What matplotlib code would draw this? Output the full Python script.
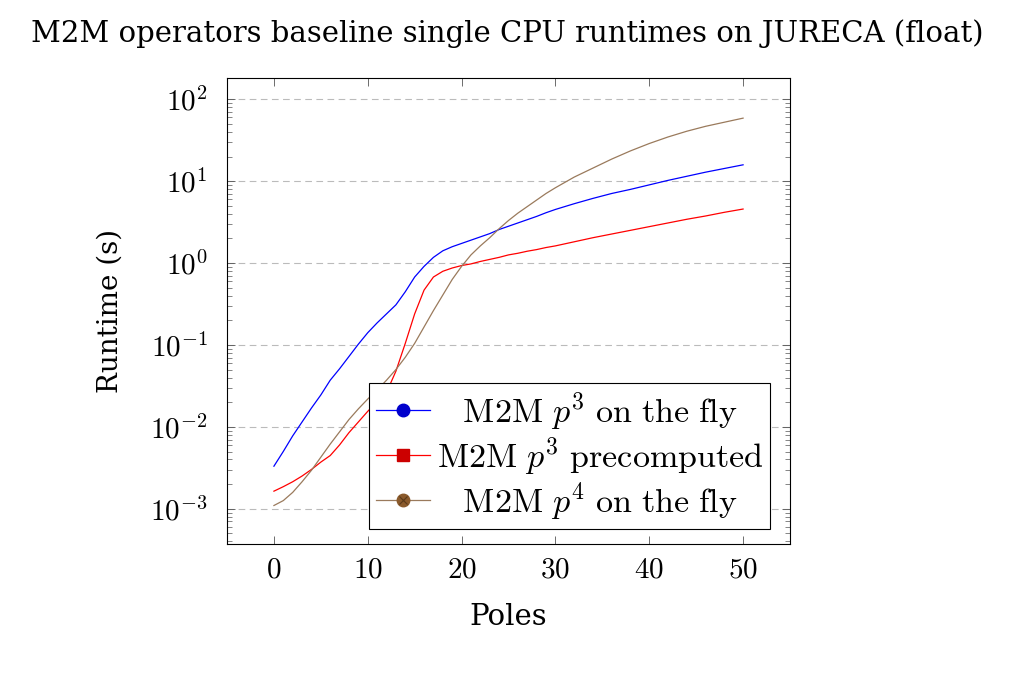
import matplotlib
matplotlib.use('Agg')
import matplotlib.pyplot as plt
from matplotlib.lines import Line2D
from matplotlib.legend_handler import HandlerTuple
from matplotlib.ticker import FixedLocator, LogLocator, NullFormatter, FuncFormatter
import numpy as np

plt.rcParams['mathtext.fontset'] = 'cm'
plt.rcParams['font.family'] = ['DejaVu Serif']

poles = [0, 1, 2, 3, 4, 5, 6, 7, 8, 9, 10, 11, 12, 13, 14, 15, 16, 17, 18, 19, 20,
         21, 22, 23, 24, 25, 26, 27, 28, 29, 30, 32, 34, 36, 38, 40, 42, 44, 46, 48, 50]

# log10 of runtime in seconds
log_p3_fly = [-2.48, -2.30, -2.11, -1.94, -1.77, -1.61, -1.43, -1.29, -1.14, -0.99, -0.85,
              -0.73, -0.62, -0.51, -0.35, -0.17, -0.04, 0.07, 0.15, 0.20, 0.24,
              0.28, 0.32, 0.36, 0.41, 0.45, 0.49, 0.53, 0.57, 0.615, 0.655,
              0.725, 0.79, 0.85, 0.90, 0.955, 1.01, 1.06, 1.11, 1.155, 1.20]
log_p3_pre = [-2.785, -2.73, -2.67, -2.60, -2.52, -2.43, -2.35, -2.22, -2.07, -1.94, -1.81,
              -1.69, -1.58, -1.32, -0.98, -0.62, -0.33, -0.17, -0.10, -0.06, -0.03,
              -0.01, 0.02, 0.045, 0.07, 0.10, 0.12, 0.145, 0.165, 0.19, 0.21,
              0.26, 0.31, 0.355, 0.40, 0.445, 0.49, 0.535, 0.575, 0.62, 0.66]
log_p4_fly = [-2.96, -2.90, -2.80, -2.67, -2.53, -2.37, -2.21, -2.06, -1.91, -1.78, -1.66,
              -1.55, -1.43, -1.30, -1.15, -0.98, -0.78, -0.58, -0.39, -0.20, -0.04,
              0.10, 0.21, 0.31, 0.42, 0.52, 0.61, 0.69, 0.77, 0.85, 0.92,
              1.05, 1.16, 1.27, 1.37, 1.46, 1.54, 1.61, 1.67, 1.72, 1.77]

labels = [r'\mathrm{M2M}\ p^3\ \mathrm{on\ the\ fly}',
          r'\mathrm{M2M}\ p^3\ \mathrm{precomputed}',
          r'\mathrm{M2M}\ p^4\ \mathrm{on\ the\ fly}']
line_colors = ['#0000ff', '#ff0000', '#9a7a5c']
mark_colors = ['#0000cc', '#cc0000', '#8a5a2c']
markers = ['o', 's', 'o']

x_ticks = [0, 10, 20, 30, 40, 50]
y_ticks = [1e-3, 1e-2, 1e-1, 1e0, 1e1, 1e2]

fig = plt.figure(figsize=(10.24, 6.73), dpi=100)
ax = fig.add_axes([227 / 1024, 1 - 544 / 673, 563 / 1024, 466 / 673])

for ys, c in zip([log_p3_fly, log_p3_pre, log_p4_fly], line_colors):
    ax.plot(poles, 10 ** np.array(ys), color=c, lw=0.9)

ax.set_yscale('log')
ax.set_xlim(-5, 55)
ax.set_ylim(10 ** -3.43, 10 ** 2.26)

ax.xaxis.set_major_locator(FixedLocator(x_ticks))
ax.xaxis.set_major_formatter(FuncFormatter(lambda v, p: f'${int(v)}$'))
ax.yaxis.set_major_locator(FixedLocator(y_ticks))
ax.yaxis.set_major_formatter(FuncFormatter(lambda v, p: f'$10^{{{int(round(np.log10(v)))}}}$'))
ax.yaxis.set_minor_locator(LogLocator(base=10, subs=np.arange(2, 10), numticks=20))
ax.yaxis.set_minor_formatter(NullFormatter())

ax.tick_params(axis='both', which='major', direction='in', length=6, width=0.6,
               color='#555555', top=True, right=True, labelsize=21)
ax.tick_params(axis='x', which='major', pad=8)
ax.tick_params(axis='y', which='major', pad=14)
ax.tick_params(axis='y', which='minor', direction='in', length=3.5, width=0.5,
               color='#555555', right=True)
ax.tick_params(axis='x', which='minor', bottom=False, top=False)

ax.grid(True, axis='y', which='major', color='#bbbbbb', lw=0.8, dashes=(6, 4))
for s in ax.spines.values():
    s.set_linewidth(0.8)

ax.set_xlabel('Poles', fontsize=21, labelpad=14)
ax.set_ylabel('Runtime (s)', fontsize=20, labelpad=19)
fig.text(0.495, 1 - 34 / 673, 'M2M operators baseline single CPU runtimes on JURECA (float)',
         ha='center', va='center', fontsize=21)

# centre the legend entries like pgfplots does: pad shorter labels with \hspace
leg_size = 24.5
renderer = fig.canvas.get_renderer()
widths = []
for lab in labels:
    t = fig.text(0, 0, f'${lab}$', fontsize=leg_size)
    widths.append(t.get_window_extent(renderer).width)
    t.remove()
em = 0.878 * leg_size * fig.dpi / 72
leg_labels = []
for lab, w in zip(labels, widths):
    pad = (max(widths) - w) / 2 / em
    if pad > 0.01:
        leg_labels.append(rf'$\hspace{{{pad:.3f}}}{lab}\hspace{{{pad:.3f}}}$')
    else:
        leg_labels.append(f'${lab}$')

handles = []
for lc, mc, m in zip(line_colors, mark_colors, markers):
    handles.append(Line2D([], [], color=lc, lw=0.9, marker=m, markersize=9,
                          markerfacecolor=mc, markeredgecolor=mc))
# p^4 mark is an otimes: circle with a cross
handles[2] = (handles[2], Line2D([], [], ls='none', marker='x', markersize=6,
                                 markeredgecolor='#5a3a1a', markeredgewidth=0.8))
leg = ax.legend(handles, leg_labels, loc='lower right', bbox_to_anchor=(0.9645, 0.032),
                fontsize=leg_size, frameon=True, fancybox=False, framealpha=1,
                edgecolor='black', handlelength=1.6, handletextpad=0.2,
                labelspacing=0.1, borderpad=0.2, borderaxespad=0,
                handler_map={tuple: HandlerTuple(ndivide=1, pad=0)})
leg.get_frame().set_linewidth(0.8)

fig.savefig('out.png', dpi=100)
